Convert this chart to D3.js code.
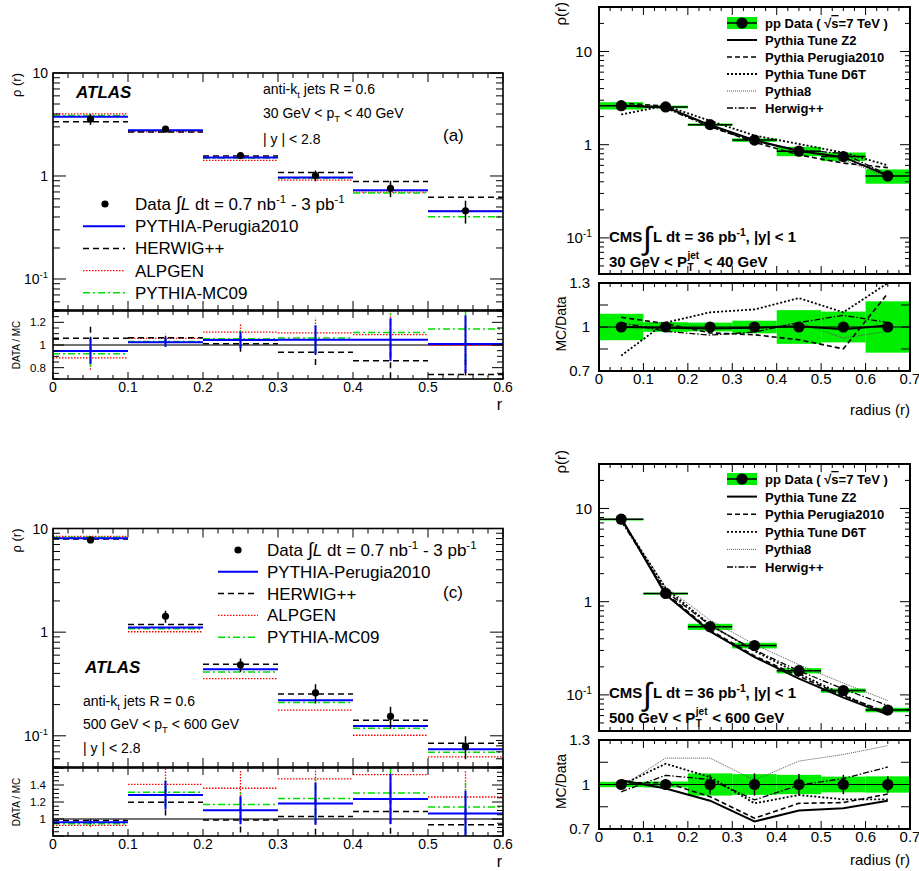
<!DOCTYPE html>
<html>
<head>
<meta charset="utf-8">
<script src="https://cdn.jsdelivr.net/npm/d3@7"></script>
<style>
  body { margin: 0; background: #fff; }
  svg { display: block; }
  svg text { font-family: "Liberation Sans", Arial, Helvetica, sans-serif; white-space: pre; fill: #000; }
</style>
</head>
<body>
<svg id="chart" width="919" height="871"></svg>
<script>
// ===================== ATLAS jet shapes (anti-kt R = 0.6) =====================
const atlasEdges = [0, 0.1, 0.2, 0.3, 0.4, 0.5, 0.6];
const atlasGenerators = ["PYTHIA-Perugia2010", "HERWIG++", "ALPGEN", "PYTHIA-MC09"];

// 30 GeV < pT < 40 GeV
const atlasLowData      = [3.56, 2.85, 1.58, 1.01, 0.76, 0.46];
const atlasLowRelErr    = [0.12, 0.04, 0.07, 0.12, 0.18, 0.25];
const atlasLowPerugia   = [0.947, 1.024, 1.044, 1.047, 1.047, 1.009];   // DATA / MC
const atlasLowHerwig    = [1.059, 1.065, 1.012, 0.935, 0.861, 0.739];
const atlasLowAlpgen    = [0.887, 1.059, 1.113, 1.107, 1.092, 0.997];
const atlasLowMC09      = [0.923, 1.030, 1.056, 1.062, 1.110, 1.142];

// 500 GeV < pT < 600 GeV
const atlasHighData     = [7.76, 1.42, 0.484, 0.26, 0.154, 0.079];
const atlasHighRelErr   = [0.02, 0.13, 0.15, 0.21, 0.24, 0.25];
const atlasHighPerugia  = [0.962, 1.282, 1.103, 1.183, 1.236, 1.065];
const atlasHighHerwig   = [0.981, 1.198, 0.989, 1.030, 1.088, 0.931];
const atlasHighAlpgen   = [0.924, 1.408, 1.362, 1.472, 1.522, 1.259];
const atlasHighMC09     = [0.943, 1.316, 1.171, 1.240, 1.305, 1.141];

// ===================== CMS jet shapes (|y| < 1) =====================
const cmsEdges   = [0, 0.1, 0.2, 0.3, 0.4, 0.5, 0.6, 0.7];
const cmsRadius  = [0.05, 0.15, 0.25, 0.35, 0.45, 0.55, 0.65];
const cmsModels  = ["Pythia Tune Z2", "Pythia Perugia2010", "Pythia Tune D6T", "Pythia8", "Herwig++"];

// 30 GeV < pT < 40 GeV
const cmsLowData    = [2.62, 2.54, 1.64, 1.12, 0.851, 0.746, 0.462];
const cmsLowSys     = [0.09, 0.033, 0.03, 0.043, 0.115, 0.105, 0.175];
const cmsLowStat    = [0.01, 0.01, 0.01, 0.015, 0.02, 0.025, 0.03];
const cmsLowZ2      = [1.00, 0.995, 0.99, 0.995, 1.005, 0.985, 1.01];   // MC / Data
const cmsLowPerugia = [1.066, 1.023, 0.96, 0.947, 0.913, 0.851, 1.229];
const cmsLowD6T     = [0.805, 1.03, 1.10, 1.12, 1.197, 1.10, 1.30];
const cmsLowPythia8 = [1.01, 1.03, 1.00, 0.985, 1.03, 0.925, 0.97];
const cmsLowHerwig  = [1.03, 0.97, 0.945, 0.965, 1.03, 1.08, 1.03];

// 500 GeV < pT < 600 GeV
const cmsHighData    = [7.67, 1.225, 0.539, 0.339, 0.1818, 0.1113, 0.0689];
const cmsHighSys     = [0.018, 0.02, 0.075, 0.07, 0.065, 0.053, 0.055];
const cmsHighStat    = [0.01, 0.035, 0.065, 0.075, 0.07, 0.065, 0.055];
const cmsHighZ2      = [1.029, 0.973, 0.891, 0.751, 0.824, 0.84, 0.891];
const cmsHighPerugia = [1.01, 1.013, 0.918, 0.773, 0.873, 0.878, 0.936];
const cmsHighD6T     = [0.995, 1.14, 1.05, 0.873, 0.929, 0.90, 0.90];
const cmsHighPythia8 = [0.985, 1.178, 1.178, 1.029, 1.158, 1.202, 1.262];
const cmsHighHerwig  = [0.951, 1.062, 1.033, 0.896, 0.996, 1.04, 1.118];

// ===================== styles =====================
const atlasStyle = {
  "PYTHIA-Perugia2010": { stroke: "#0000ff", width: 2,   dash: null },
  "HERWIG++":           { stroke: "#000000", width: 1.5, dash: "6,4" },
  "ALPGEN":             { stroke: "#ff0000", width: 1.3, dash: "1.5,1.5" },
  "PYTHIA-MC09":        { stroke: "#00e000", width: 1.5, dash: "7,3,2,3" }
};
const atlasDrawOrder = ["ALPGEN", "PYTHIA-MC09", "HERWIG++", "PYTHIA-Perugia2010"];

const cmsStyle = {
  "Pythia Tune Z2":     { stroke: "#000", width: 2,   dash: null },
  "Pythia Perugia2010": { stroke: "#000", width: 1.6, dash: "5,3" },
  "Pythia Tune D6T":    { stroke: "#000", width: 1.8, dash: "2,2" },
  "Pythia8":            { stroke: "#555", width: 1,   dash: "1,1" },
  "Herwig++":           { stroke: "#000", width: 1.3, dash: "6,2,1.5,2" }
};
const BAND = "#00ee00";

const svg = d3.select("#chart");
let clipCount = 0;

// ===================== helpers =====================
function rich(g, x, y, size, segs, opts = {}) {
  const t = g.append("text").attr("x", x).attr("y", y)
    .style("font-size", size + "px")
    .attr("text-anchor", opts.anchor || "start");
  if (opts.weight) t.style("font-weight", opts.weight);
  if (opts.italic) t.style("font-style", "italic");
  if (opts.transform) t.attr("transform", opts.transform);
  let shift = 0;
  segs.forEach(s => {
    const seg = typeof s === "string" ? { t: s } : s;
    const target = seg.sup ? -0.4 * size : seg.sub ? 0.3 * size : 0;
    const sp = t.append("tspan").attr("dy", target - shift).text(seg.t);
    shift = target;
    if (seg.sup || seg.sub) sp.style("font-size", (0.68 * size) + "px");
    if (seg.size) sp.style("font-size", seg.size + "px");
    if (seg.italic) sp.style("font-style", "italic");
    if (seg.over) sp.style("text-decoration", "overline");
  });
  return t;
}

function clipRect(x0, y0, x1, y1) {
  const id = "clip" + (clipCount++);
  svg.append("clipPath").attr("id", id)
    .append("rect").attr("x", x0).attr("y", y0).attr("width", x1 - x0).attr("height", y1 - y0);
  return "url(#" + id + ")";
}

function xTicks(g, x, yBot, yTop, dom, major, nSub, majLen, minLen) {
  const step = major / nSub;
  const n = Math.round((dom[1] - dom[0]) / step);
  for (let i = 0; i <= n; i++) {
    const px = x(dom[0] + i * step), len = i % nSub === 0 ? majLen : minLen;
    g.append("line").attr("x1", px).attr("x2", px).attr("y1", yBot).attr("y2", yBot - len);
    g.append("line").attr("x1", px).attr("x2", px).attr("y1", yTop).attr("y2", yTop + len);
  }
}

function logTicks(g, y, xL, xR, dom, majLen, minLen) {
  const e0 = Math.floor(Math.log10(dom[0])), e1 = Math.ceil(Math.log10(dom[1]));
  for (let e = e0; e <= e1; e++) {
    for (let k = 1; k <= 9; k++) {
      const v = k * Math.pow(10, e);
      if (v < dom[0] * 0.999 || v > dom[1] * 1.001) continue;
      const len = k === 1 ? majLen : minLen, py = y(v);
      g.append("line").attr("x1", xL).attr("x2", xL + len).attr("y1", py).attr("y2", py);
      g.append("line").attr("x1", xR).attr("x2", xR - len).attr("y1", py).attr("y2", py);
    }
  }
}

function linTicksY(g, y, xL, xR, dom, step, isMajor, majLen, minLen) {
  const n = Math.round((dom[1] - dom[0]) / step);
  for (let i = 0; i <= n; i++) {
    const v = dom[0] + i * step, py = y(v), len = isMajor(v) ? majLen : minLen;
    g.append("line").attr("x1", xL).attr("x2", xL + len).attr("y1", py).attr("y2", py);
    g.append("line").attr("x1", xR).attr("x2", xR - len).attr("y1", py).attr("y2", py);
  }
}

function styled(sel, st) {
  sel.attr("stroke", st.stroke).attr("stroke-width", st.width).attr("fill", "none");
  if (st.dash) sel.attr("stroke-dasharray", st.dash);
  return sel;
}

function logLabel(g, x, y, v, size) {
  const e = Math.round(Math.log10(v));
  const segs = e === 0 ? ["1"] : e === 1 ? ["10"] : ["10", { t: String(e), sup: true }];
  rich(g, x, y + size * 0.36, size, segs, { anchor: "end" });
}

// ===================== ATLAS panel =====================
function atlasPanel(cfg) {
  const g = svg.append("g");
  const x = d3.scaleLinear().domain([0, 0.6]).range([53, 503]);
  const y = d3.scaleLog().domain([0.05, 10]).range([cfg.mainBot, cfg.mainTop]);
  const r = d3.scaleLinear().domain(cfg.rDom).range([cfg.ratioBot, cfg.ratioTop]);
  const ratios = {
    "PYTHIA-Perugia2010": cfg.perugia, "HERWIG++": cfg.herwig,
    "ALPGEN": cfg.alpgen, "PYTHIA-MC09": cfg.mc09
  };
  const bins = d3.pairs(atlasEdges);

  // ---- main pad ----
  const main = g.append("g").attr("clip-path", clipRect(53, cfg.mainTop, 503, cfg.mainBot));
  atlasDrawOrder.forEach(name => {
    const rr = ratios[name];
    bins.forEach((b, i) => {
      const mc = cfg.data[i] / rr[i];
      styled(main.append("line"), atlasStyle[name])
        .attr("x1", x(b[0])).attr("x2", x(b[1])).attr("y1", y(mc)).attr("y2", y(mc));
    });
  });
  bins.forEach((b, i) => {
    const c = (b[0] + b[1]) / 2, v = cfg.data[i], e = cfg.err[i];
    main.append("line").attr("x1", x(c)).attr("x2", x(c))
      .attr("y1", y(v * (1 - e))).attr("y2", y(v * (1 + e)))
      .attr("stroke", "#000").attr("stroke-width", 1.5);
    main.append("circle").attr("cx", x(c)).attr("cy", y(v)).attr("r", 3.6).attr("fill", "#000");
  });
  const mt = g.append("g").attr("stroke", "#000").attr("stroke-width", 1);
  xTicks(mt, x, cfg.mainBot, cfg.mainTop, [0, 0.6], 0.1, 5, 9, 5);
  logTicks(mt, y, 53, 503, [0.05, 10], 13, 7);
  g.append("rect").attr("x", 53).attr("y", cfg.mainTop).attr("width", 450)
    .attr("height", cfg.mainBot - cfg.mainTop).attr("fill", "none")
    .attr("stroke", "#000").attr("stroke-width", 1.6);
  [10, 1, 0.1].forEach(v => logLabel(g, 48, y(v), v, 14));

  // ---- ratio pad ----
  const rp = g.append("g").attr("clip-path", clipRect(53, cfg.ratioTop, 503, cfg.ratioBot));
  rp.append("line").attr("x1", x(0)).attr("x2", x(0.6)).attr("y1", r(1)).attr("y2", r(1))
    .attr("stroke", "#444").attr("stroke-width", 1.3);
  atlasDrawOrder.forEach(name => {
    const rr = ratios[name];
    bins.forEach((b, i) => {
      const c = (b[0] + b[1]) / 2, e = cfg.err[i];
      styled(rp.append("line"), atlasStyle[name])
        .attr("x1", x(b[0])).attr("x2", x(b[1])).attr("y1", r(rr[i])).attr("y2", r(rr[i]));
      styled(rp.append("line"), atlasStyle[name])
        .attr("x1", x(c)).attr("x2", x(c))
        .attr("y1", r(rr[i] * (1 - e))).attr("y2", r(rr[i] * (1 + e)));
    });
  });
  const rt = g.append("g").attr("stroke", "#000").attr("stroke-width", 1);
  xTicks(rt, x, cfg.ratioBot, cfg.ratioTop, [0, 0.6], 0.1, 5, 7, 4);
  linTicksY(rt, r, 53, 503, cfg.rDom, 0.05,
    v => Math.abs(v * 5 - Math.round(v * 5)) < 1e-6, 11, 6);
  g.append("rect").attr("x", 53).attr("y", cfg.ratioTop).attr("width", 450)
    .attr("height", cfg.ratioBot - cfg.ratioTop).attr("fill", "none")
    .attr("stroke", "#000").attr("stroke-width", 1.6);
  cfg.rLabels.forEach(v => {
    g.append("text").attr("x", 46).attr("y", r(v) + 4).attr("text-anchor", "end")
      .style("font-size", "11.5px").text(d3.format("~g")(v));
  });
  atlasEdges.forEach(v => {
    g.append("text").attr("x", x(v)).attr("y", cfg.ratioBot + 13).attr("text-anchor", "middle")
      .style("font-size", "14px").text(d3.format("~g")(v));
  });
  g.append("text").attr("x", 502).attr("y", cfg.ratioBot + 31).attr("text-anchor", "end")
    .style("font-size", "16px").text("r");

  // axis titles
  g.append("text").attr("transform", `translate(21,${cfg.mainTop}) rotate(-90)`)
    .attr("text-anchor", "end").style("font-size", "13px").text("\u03c1 (r)");
  g.append("text").attr("transform", `translate(20,${(cfg.ratioTop + cfg.ratioBot) / 2}) rotate(-90)`)
    .attr("text-anchor", "middle").style("font-size", "10px").text("DATA / MC");

  // ---- legend ----
  const L = cfg.legend;
  g.append("circle").attr("cx", L.mx).attr("cy", L.y0).attr("r", 3.6).attr("fill", "#000");
  rich(g, L.tx, L.y0 + 6, 17, ["Data ", { t: "\u222b", size: 19 }, { t: "L", italic: true },
    " dt = 0.7 nb", { t: "-1", sup: true }, " - 3 pb", { t: "-1", sup: true }]);
  atlasGenerators.forEach((name, i) => {
    const yy = L.y0 + (i + 1) * L.dy;
    styled(g.append("line"), atlasStyle[name])
      .attr("x1", L.lx0).attr("x2", L.lx1).attr("y1", yy).attr("y2", yy);
    g.append("text").attr("x", L.tx).attr("y", yy + 6).style("font-size", "17px").text(name);
  });

  // ---- labels ----
  const T = cfg.text;
  g.append("text").attr("x", T.atlas[0]).attr("y", T.atlas[1])
    .style("font-size", "17px").style("font-weight", "bold").style("font-style", "italic").text("ATLAS");
  rich(g, T.x, T.y0, 14, ["anti-k", { t: "t", sub: true }, " jets R = 0.6"]);
  rich(g, T.x, T.y0 + T.dy, 14, [cfg.ptLo + " GeV < p", { t: "T", sub: true }, " < " + cfg.ptHi + " GeV"]);
  g.append("text").attr("x", T.x).attr("y", T.y0 + 2 * T.dy + 2).style("font-size", "14px").text("| y | < 2.8");
  g.append("text").attr("x", 443).attr("y", cfg.tag[1]).style("font-size", "17px").text(cfg.tag[0]);
}

// ===================== CMS panel =====================
function cmsPanel(cfg) {
  const g = svg.append("g");
  const x = d3.scaleLinear().domain([0, 0.7]).range([599, 910]);
  const yDom = [0.041, 30];
  const y = d3.scaleLog().domain(yDom).range([cfg.mainBot, cfg.mainTop]);
  const r = d3.scaleLinear().domain([0.7, 1.3]).range([cfg.ratioBot, cfg.ratioTop]);
  const models = {
    "Pythia Tune Z2": cfg.z2, "Pythia Perugia2010": cfg.perugia, "Pythia Tune D6T": cfg.d6t,
    "Pythia8": cfg.pythia8, "Herwig++": cfg.herwig
  };
  const bins = d3.pairs(cmsEdges);
  const drawOrder = ["Pythia8", "Herwig++", "Pythia Tune D6T", "Pythia Perugia2010", "Pythia Tune Z2"];

  // ---- main pad ----
  const main = g.append("g").attr("clip-path", clipRect(599, cfg.mainTop, 910, cfg.mainBot));
  bins.forEach((b, i) => {
    const v = cfg.data[i], s = cfg.sys[i];
    main.append("rect").attr("x", x(b[0])).attr("width", x(b[1]) - x(b[0]))
      .attr("y", y(v * (1 + s))).attr("height", Math.max(2, y(v * (1 - s)) - y(v * (1 + s))))
      .attr("fill", BAND);
  });
  bins.forEach((b, i) => {
    main.append("line").attr("x1", x(b[0])).attr("x2", x(b[1]))
      .attr("y1", y(cfg.data[i])).attr("y2", y(cfg.data[i])).attr("stroke", "#000").attr("stroke-width", 1.5);
  });
  drawOrder.forEach(name => {
    const pts = cmsRadius.map((c, i) => [x(c), y(cfg.data[i] * models[name][i])]);
    styled(main.append("path"), cmsStyle[name]).attr("d", d3.line()(pts));
  });
  cmsRadius.forEach((c, i) => {
    const v = cfg.data[i], e = cfg.stat[i];
    main.append("line").attr("x1", x(c)).attr("x2", x(c))
      .attr("y1", y(v * (1 - e))).attr("y2", y(v * (1 + e))).attr("stroke", "#000").attr("stroke-width", 1.5);
    main.append("circle").attr("cx", x(c)).attr("cy", y(v)).attr("r", 5.6).attr("fill", "#000");
  });
  const mt = g.append("g").attr("stroke", "#000").attr("stroke-width", 1);
  xTicks(mt, x, cfg.mainBot, cfg.mainTop, [0, 0.7], 0.1, 4, 8, 4);
  logTicks(mt, y, 599, 910, yDom, 10, 5);
  g.append("rect").attr("x", 599).attr("y", cfg.mainTop).attr("width", 311)
    .attr("height", cfg.mainBot - cfg.mainTop).attr("fill", "none")
    .attr("stroke", "#000").attr("stroke-width", 2);
  [10, 1, 0.1].forEach(v => logLabel(g, 592, y(v), v, 15));

  // ---- ratio pad ----
  const rp = g.append("g").attr("clip-path", clipRect(599, cfg.ratioTop, 910, cfg.ratioBot));
  bins.forEach((b, i) => {
    const s = cfg.sys[i];
    rp.append("rect").attr("x", x(b[0])).attr("width", x(b[1]) - x(b[0]))
      .attr("y", r(1 + s)).attr("height", r(1 - s) - r(1 + s)).attr("fill", BAND);
  });
  rp.append("line").attr("x1", x(0)).attr("x2", x(0.7)).attr("y1", r(1)).attr("y2", r(1))
    .attr("stroke", "#000").attr("stroke-width", 1.2);
  drawOrder.forEach(name => {
    const pts = cmsRadius.map((c, i) => [x(c), r(models[name][i])]);
    styled(rp.append("path"), cmsStyle[name]).attr("d", d3.line()(pts));
  });
  cmsRadius.forEach((c, i) => {
    const e = cfg.stat[i];
    rp.append("line").attr("x1", x(c)).attr("x2", x(c))
      .attr("y1", r(1 - e)).attr("y2", r(1 + e)).attr("stroke", "#000").attr("stroke-width", 1.5);
    rp.append("circle").attr("cx", x(c)).attr("cy", r(1)).attr("r", 5.6).attr("fill", "#000");
  });
  const rt = g.append("g").attr("stroke", "#000").attr("stroke-width", 1);
  xTicks(rt, x, cfg.ratioBot, cfg.ratioTop, [0, 0.7], 0.1, 4, 8, 4);
  linTicksY(rt, r, 599, 910, [0.7, 1.3], 0.15, () => true, 9, 9);
  g.append("rect").attr("x", 599).attr("y", cfg.ratioTop).attr("width", 311)
    .attr("height", cfg.ratioBot - cfg.ratioTop).attr("fill", "none")
    .attr("stroke", "#000").attr("stroke-width", 2);
  [1.3, 1, 0.7].forEach(v => {
    g.append("text").attr("x", 590).attr("y", r(v) + 5).attr("text-anchor", "end")
      .style("font-size", "15px").text(d3.format("~g")(v));
  });
  cmsEdges.forEach(v => {
    g.append("text").attr("x", x(v)).attr("y", cfg.ratioBot + 13).attr("text-anchor", "middle")
      .style("font-size", "15px").text(d3.format("~g")(v));
  });
  g.append("text").attr("x", 910).attr("y", cfg.xTitleY).attr("text-anchor", "end")
    .style("font-size", "15px").text("radius (r)");

  g.append("text").attr("transform", `translate(566,${cfg.rhoEnd}) rotate(-90)`)
    .attr("text-anchor", "end").style("font-size", "15px").text("\u03c1(r)");
  g.append("text").attr("transform", `translate(566,${(cfg.ratioTop + cfg.ratioBot) / 2 - 3}) rotate(-90)`)
    .attr("text-anchor", "middle").style("font-size", "14px").text("MC/Data");

  // ---- legend ----
  const L = cfg.legend;
  g.append("rect").attr("x", 727).attr("y", L.y0 - 6).attr("width", 30).attr("height", 12).attr("fill", BAND);
  g.append("line").attr("x1", 727).attr("x2", 757).attr("y1", L.y0).attr("y2", L.y0)
    .attr("stroke", "#000").attr("stroke-width", 1.5);
  g.append("circle").attr("cx", 742).attr("cy", L.y0).attr("r", 5.6).attr("fill", "#000");
  rich(g, 765, L.y0 + 5, 13, ["pp Data ( \u221a", { t: "s", over: true }, "=7 TeV )"], { weight: "bold" });
  cmsModels.forEach((name, i) => {
    const yy = L.y0 + (i + 1) * L.dy;
    styled(g.append("path"), cmsStyle[name]).attr("d", d3.line()([[727, yy], [757, yy]]));
    g.append("text").attr("x", 765).attr("y", yy + 5).style("font-size", "13px")
      .style("font-weight", "bold").text(name);
  });

  // ---- labels ----
  const ty = cfg.textY;
  g.append("text").attr("x", 609).attr("y", ty + 5).style("font-size", "15px").style("font-weight", "bold").text("CMS");
  g.append("text").attr("x", 643).attr("y", ty + 12).style("font-size", "32px").text("\u222b");
  rich(g, 653, ty + 5, 15, ["L dt = 36 pb", { t: "-1", sup: true }, ", |y| < 1"], { weight: "bold" });
  const y2 = ty + 30;
  const t1 = g.append("text").attr("x", 609).attr("y", y2).style("font-size", "15px")
    .style("font-weight", "bold").text(cfg.ptLo + " GeV < P");
  const w1 = t1.node().getComputedTextLength();
  const tj = g.append("text").attr("x", 609 + w1 + 0.5).attr("y", y2 - 8).style("font-size", "10px")
    .style("font-weight", "bold").text("jet");
  g.append("text").attr("x", 609 + w1 + 0.5).attr("y", y2 + 4).style("font-size", "10px")
    .style("font-weight", "bold").text("T");
  const wj = tj.node().getComputedTextLength();
  g.append("text").attr("x", 609 + w1 + wj + 1).attr("y", y2).style("font-size", "15px")
    .style("font-weight", "bold").text(" < " + cfg.ptHi + " GeV");
}

// ===================== layout =====================
atlasPanel({
  mainTop: 73, mainBot: 310, ratioTop: 311, ratioBot: 379,
  rDom: [0.7, 1.3], rLabels: [1.2, 1, 0.8],
  data: atlasLowData, err: atlasLowRelErr,
  perugia: atlasLowPerugia, herwig: atlasLowHerwig, alpgen: atlasLowAlpgen, mc09: atlasLowMC09,
  legend: { mx: 105, tx: 135, lx0: 83, lx1: 125, y0: 204, dy: 22.2 },
  text: { atlas: [76, 98], x: 263, y0: 94, dy: 24 },
  ptLo: "30", ptHi: "40", tag: ["(a)", 141]
});

atlasPanel({
  mainTop: 528.5, mainBot: 767, ratioTop: 768, ratioBot: 836,
  rDom: [0.8, 1.6], rLabels: [1.4, 1.2, 1],
  data: atlasHighData, err: atlasHighRelErr,
  perugia: atlasHighPerugia, herwig: atlasHighHerwig, alpgen: atlasHighAlpgen, mc09: atlasHighMC09,
  legend: { mx: 238, tx: 267, lx0: 218, lx1: 258, y0: 550, dy: 21.8 },
  text: { atlas: [85, 673], x: 83, y0: 706, dy: 22.5 },
  ptLo: "500", ptHi: "600", tag: ["(c)", 598]
});

cmsPanel({
  mainTop: 7, mainBot: 274, ratioTop: 283, ratioBot: 371,
  data: cmsLowData, sys: cmsLowSys, stat: cmsLowStat,
  z2: cmsLowZ2, perugia: cmsLowPerugia, d6t: cmsLowD6T, pythia8: cmsLowPythia8, herwig: cmsLowHerwig,
  legend: { y0: 23, dy: 17 },
  textY: 237, ptLo: "30", ptHi: "40", rhoEnd: 2, xTitleY: 415
});

cmsPanel({
  mainTop: 464, mainBot: 731, ratioTop: 740, ratioBot: 829,
  data: cmsHighData, sys: cmsHighSys, stat: cmsHighStat,
  z2: cmsHighZ2, perugia: cmsHighPerugia, d6t: cmsHighD6T, pythia8: cmsHighPythia8, herwig: cmsHighHerwig,
  legend: { y0: 479, dy: 17.6 },
  textY: 693, ptLo: "500", ptHi: "600", rhoEnd: 450, xTitleY: 865
});
</script>
</body>
</html>
